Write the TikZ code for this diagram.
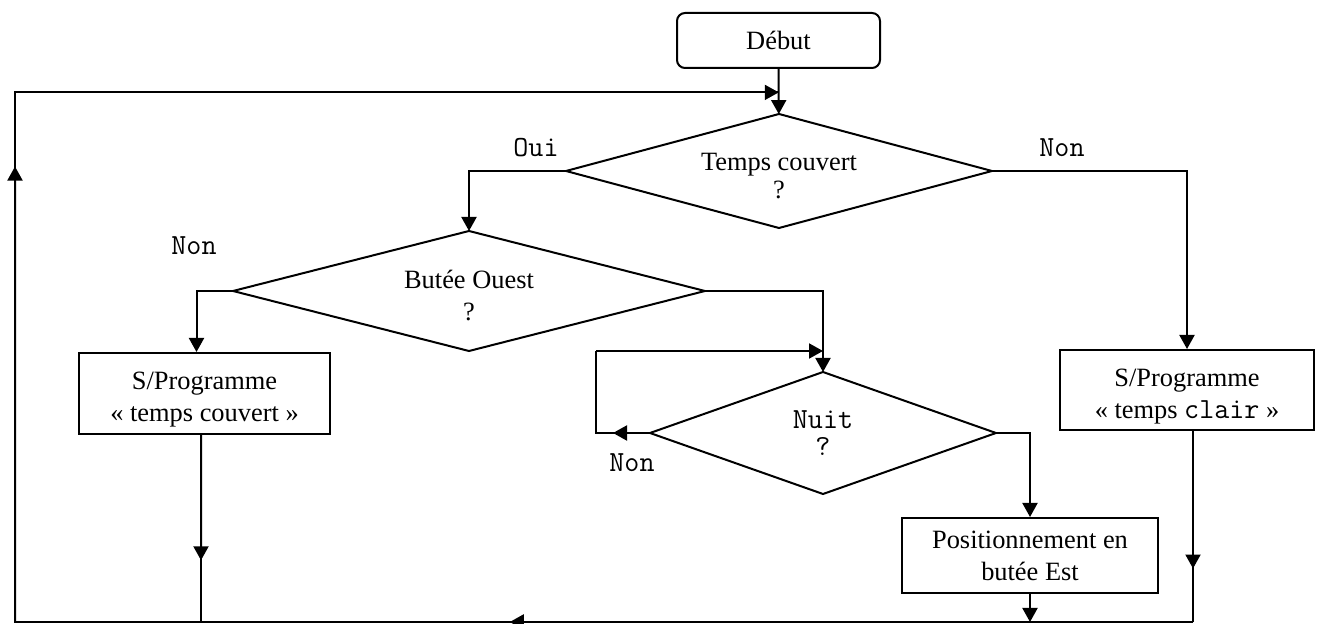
\documentclass[tikz,border=0pt]{standalone}
\usepackage{fontspec}
\setmainfont{Liberation Serif}
\usetikzlibrary{shapes.geometric,arrows.meta,calc}

\newcommand\monotext{\fontsize{14.6}{16}\selectfont\ttfamily}
\newcommand\lowtext[1]{\rule{0pt}{#1}}

\tikzset{
  flow/.style={line width=1pt},
  arrow/.style={flow,-{Triangle[length=7pt,width=7.5pt]}},
  startbox/.style={draw,line width=1pt,rounded corners=4pt,minimum width=101.5pt,minimum height=27.5pt},
  procbox/.style={draw,line width=1pt,align=center,inner sep=0pt},
  testbox/.style={draw,line width=1pt,diamond,align=center,inner sep=0pt,outer sep=0pt},
  answer/.style={font=\monotext}
}

\begin{document}
\fontsize{13.2}{16}\selectfont
\begin{tikzpicture}[x=0.5pt,y=-0.5pt]
\useasboundingbox (0,0) rectangle (1318,624);

% steps and tests
\node[startbox] (debut) at (778.5,40.5) {Début};
\node[testbox,aspect=3.74,minimum width=213pt,minimum height=57pt] (couvert) at (779,171) {\lowtext{14pt}Temps couvert\\[-2pt]?};
\node[testbox,aspect=3.93,minimum width=236pt,minimum height=60pt] (ouest) at (469,291) {\lowtext{14pt}Butée Ouest\\?};
\node[testbox,aspect=2.84,minimum width=173pt,minimum height=61pt,font=\monotext] (nuit) at (823,433) {Nuit\\[-2.5pt]?};
\node[procbox,minimum width=125.5pt,minimum height=40.5pt] (progcouv) at (204.5,393.5) {\lowtext{15pt}S/Programme\\« temps couvert »};
\node[procbox,minimum width=127pt,minimum height=40pt] (progclair) at (1187,390) {\lowtext{15pt}S/Programme\\« temps {\monotext clair} »};
\node[procbox,minimum width=128pt,minimum height=37.5pt] (butest) at (1030,555.5) {Positionnement en\\butée Est};

% answers
\node[answer] (ouiCouvert) at (536,148) {Oui};
\node[answer] (nonCouvert) at (1062,148) {Non};
\node[answer] (nonOuest) at (194,246) {Non};
\node[answer] (nonNuit) at (632,463) {Non};

% corners of the return loop
\coordinate (join) at ($(debut.south)!0.52!(couvert.north)$);
\coordinate (bl) at (15,622);
\coordinate (br) at (1193,622);
\coordinate (loop) at (596,351);

% connectors
\draw[arrow] (debut) -- (couvert);
\draw[arrow] (couvert.west) -| (ouest.north);
\draw[arrow] (couvert.east) -| (progclair.north);
\draw[arrow] (ouest.west) -| ([xshift=-4pt]progcouv.north);
\draw[arrow] (ouest.east) -| (nuit.north);
\draw[arrow] (nuit.west) -- ++(-37,0);
\draw[flow] (nuit.west) -- (loop |- nuit.west) -- (loop);
\draw[arrow] (loop) -- (loop -| nuit.north);
\draw[arrow] (nuit.east) -| (butest.north);

\coordinate (outCouv) at ([xshift=-1.75pt]progcouv.south);
\draw[arrow] (outCouv) -- ($(outCouv)!0.67!(outCouv |- bl)$);
\draw[flow] (outCouv) -- (outCouv |- bl);
\coordinate (outClair) at (progclair.south -| br);
\draw[arrow] (outClair) -- ($(outClair)!0.72!(br)$);
\draw[flow] (outClair) -- (br);
\draw[arrow] (butest.south) -- (butest.south |- bl);

\draw[arrow] (br) -- ($(br)!0.58!(bl)$);
\draw[flow] (br) -- (bl) -- (bl |- join) -- (join);
\draw[arrow] (bl) -- ($(bl)!0.86!(bl |- join)$);
\draw[arrow] (bl |- join) -- (join);
\end{tikzpicture}
\end{document}
